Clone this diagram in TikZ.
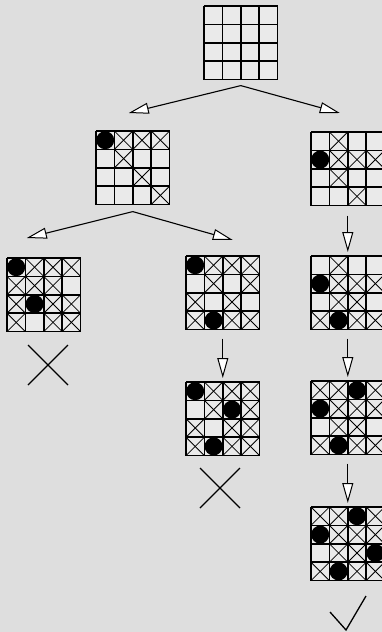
\documentclass[tikz,border=0pt]{standalone}
\usetikzlibrary{arrows.meta,calc}
\definecolor{bg}{RGB}{222,222,222}
\definecolor{cellc}{RGB}{234,234,234}
\tikzset{
  boardbox/.style={minimum width=73.6pt, minimum height=73.6pt, inner sep=0pt, outer sep=0pt, anchor=north west, draw=none},
  gridline/.style={line width=1.7pt, black},
  xline/.style={line width=0.8pt, black},
  queen/.style={fill=black},
  arr/.style={line width=1.1pt, -{Triangle[length=20pt,width=11pt,fill=white,line width=1pt]}},
  bigx/.style={line width=1.3pt, black},
}
\newcommand\qgrid[1]{%
  \begin{scope}[shift={(#1.north west)}]
    \foreach \i in {0,...,4}{
      \draw[gridline] ({\i*18.4},0) -- ({\i*18.4},73.6);
      \draw[gridline] (0,{\i*18.4}) -- (73.6,{\i*18.4});
    }
  \end{scope}}
\newcommand\qfill[1]{%
  \begin{scope}[shift={(#1.north west)}]
    \fill[cellc] (0,0) rectangle (73.6,73.6);
  \end{scope}}
\newcommand\qcross[2]{%
  \begin{scope}[shift={(#1.north west)}]
    \foreach \c/\r in {#2}{
      \draw[xline] ({(\c-1)*18.4},{(\r-1)*18.4}) -- ++(18.4,18.4);
      \draw[xline] ({\c*18.4},{(\r-1)*18.4}) -- ++(-18.4,18.4);
    }
  \end{scope}}
\newcommand\qqueen[2]{%
  \begin{scope}[shift={(#1.north west)}]
    \foreach \c/\r in {#2}{
      \fill[queen] ({(\c-0.5)*18.4},{(\r-0.5)*18.4}) circle[radius=9pt];
    }
  \end{scope}}
\begin{document}
\begin{tikzpicture}[x=1pt,y=-1pt]
  \useasboundingbox (0,0) rectangle (382,632);
  \fill[bg] (0,0) rectangle (382,632);
  \clip (0,0) rectangle (382,632);

  % boards
  \node[boardbox] (b0) at (204,6) {};
  \node[boardbox] (b1) at (96,131) {};
  \node[boardbox] (b2) at (311,132) {};
  \node[boardbox] (b3) at (7,258) {};
  \node[boardbox] (b4) at (186,256) {};
  \node[boardbox] (b5) at (311,256) {};
  \node[boardbox] (b6) at (186,382) {};
  \node[boardbox] (b7) at (311,381) {};
  \node[boardbox] (b8) at (311,507) {};

  \foreach \b in {b0,b1,b2,b3,b4,b5,b6,b7,b8}{\qfill{\b}}

  % b1: queen r1c1
  \qcross{b1}{2/1,3/1,4/1,2/2,3/3,4/4}
  \qqueen{b1}{1/1}
  % b2: queen r2c1
  \qcross{b2}{2/1,2/2,3/2,4/2,2/3,3/4}
  \qqueen{b2}{1/2}
  % b3
  \qcross{b3}{2/1,3/1,4/1,1/2,2/2,3/2,1/3,3/3,4/3,1/4,3/4,4/4}
  \qqueen{b3}{1/1,2/3}
  % b4
  \qcross{b4}{2/1,3/1,4/1,2/2,4/2,1/3,3/3,1/4,3/4,4/4}
  \qqueen{b4}{1/1,2/4}
  % b5
  \qcross{b5}{2/1,2/2,3/2,4/2,2/3,3/3,1/4,3/4,4/4}
  \qqueen{b5}{1/2,2/4}
  % b6
  \qcross{b6}{2/1,3/1,4/1,2/2,4/2,1/3,3/3,4/3,1/4,3/4,4/4}
  \qqueen{b6}{1/1,2/4,3/2}
  % b7
  \qcross{b7}{1/1,2/1,4/1,2/2,3/2,4/2,2/3,3/3,1/4,3/4,4/4}
  \qqueen{b7}{1/2,2/4,3/1}
  % b8
  \qcross{b8}{1/1,2/1,4/1,2/2,3/2,4/2,2/3,3/3,1/4,3/4,4/4}
  \qqueen{b8}{1/2,2/4,3/1,4/3}

  \foreach \b in {b0,b1,b2,b3,b4,b5,b6,b7,b8}{\qgrid{\b}}

  % arrow endpoints
  \coordinate (s0) at ([yshift=-6pt]b0.south);
  \coordinate (t1) at ([xshift=-4pt,yshift=18pt]b1.north);
  \coordinate (t2) at ([xshift=-8pt,yshift=19pt]b2.north);
  \coordinate (s1) at ([yshift=-7pt]b1.south);
  \coordinate (t3) at ([xshift=-17pt,yshift=20pt]b3.north);
  \coordinate (t4) at ([xshift=10pt,yshift=16pt]b4.north);

  \draw[arr] (s0) -- (t1);
  \draw[arr] (s0) -- (t2);
  \draw[arr] (s1) -- (t3);
  \draw[arr] (s1) -- (t4);
  \draw[arr] ([yshift=-10pt]b2.south) -- ([yshift=4pt]b5.north);
  \draw[arr] ([yshift=-9pt]b4.south) -- ([yshift=4pt]b6.north);
  \draw[arr] ([yshift=-9pt]b5.south) -- ([yshift=4pt]b7.north);
  \draw[arr] ([yshift=-9pt]b7.south) -- ([yshift=4pt]b8.north);

  % failure marks
  \coordinate (x1) at (48,365);
  \coordinate (x2) at (220,488);
  \draw[bigx] ($(x1)+(-20,-20)$) -- ($(x1)+(20,20)$);
  \draw[bigx] ($(x1)+(20,-20)$) -- ($(x1)+(-20,20)$);
  \draw[bigx] ($(x2)+(-20,-20)$) -- ($(x2)+(20,20)$);
  \draw[bigx] ($(x2)+(20,-20)$) -- ($(x2)+(-20,20)$);

  % success mark
  \coordinate (c1) at (330,612);
  \coordinate (c2) at (346,630);
  \coordinate (c3) at (366,596);
  \draw[bigx] (c1) -- (c2) -- (c3);
\end{tikzpicture}
\end{document}
